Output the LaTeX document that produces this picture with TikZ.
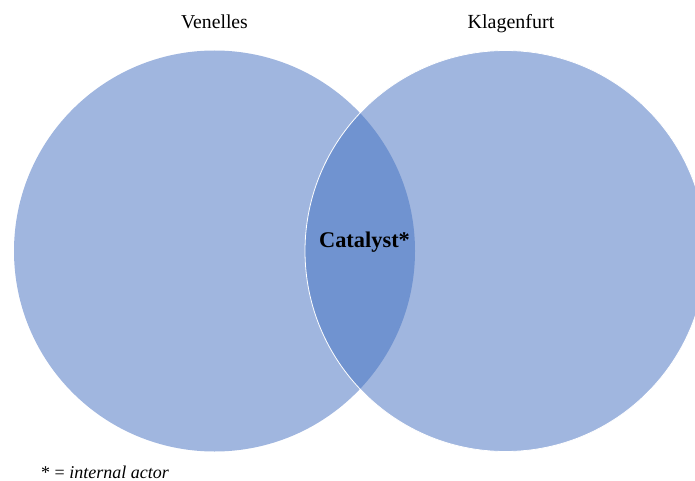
\documentclass[tikz,border=0pt]{standalone}
\usepackage{fontspec}
\setmainfont{Liberation Serif}
\definecolor{circfill}{HTML}{A0B6DF}
\definecolor{lensfill}{HTML}{7093D0}
\begin{document}
\begin{tikzpicture}[x=1pt,y=-1pt,
  titlelabel/.style={font=\fontsize{19.7}{22}\selectfont, anchor=base},
  setcircle/.style={fill=circfill, draw=none}]
\useasboundingbox (0,0) rectangle (695,481);
\begin{scope}
\clip (0,0) rectangle (695,481);
\fill[circfill] (214.5,251) circle (200.5);
\fill[circfill] (505.5,251) circle (200.5);
\begin{scope}
\clip (214.5,251) circle (200.5);
\fill[lensfill] (505.5,251) circle (200.5);
\end{scope}
\draw[white, line width=0.8pt] (505.5,251) circle (200.5);
\end{scope}
\node[titlelabel] (venelles) at (214.5,29) {Venelles};
\node[titlelabel, font=\fontsize{20}{22}\selectfont] (klagenfurt) at (511,29) {Klagenfurt};
\node[anchor=base, font=\fontsize{22.4}{24}\selectfont\bfseries] (catalyst) at (364.5,247) {Catalyst*};
\node[anchor=base west, inner sep=0pt, font=\fontsize{18}{20}\selectfont] (note) at (41,478) {* = \textit{internal actor}};
\end{tikzpicture}
\end{document}
